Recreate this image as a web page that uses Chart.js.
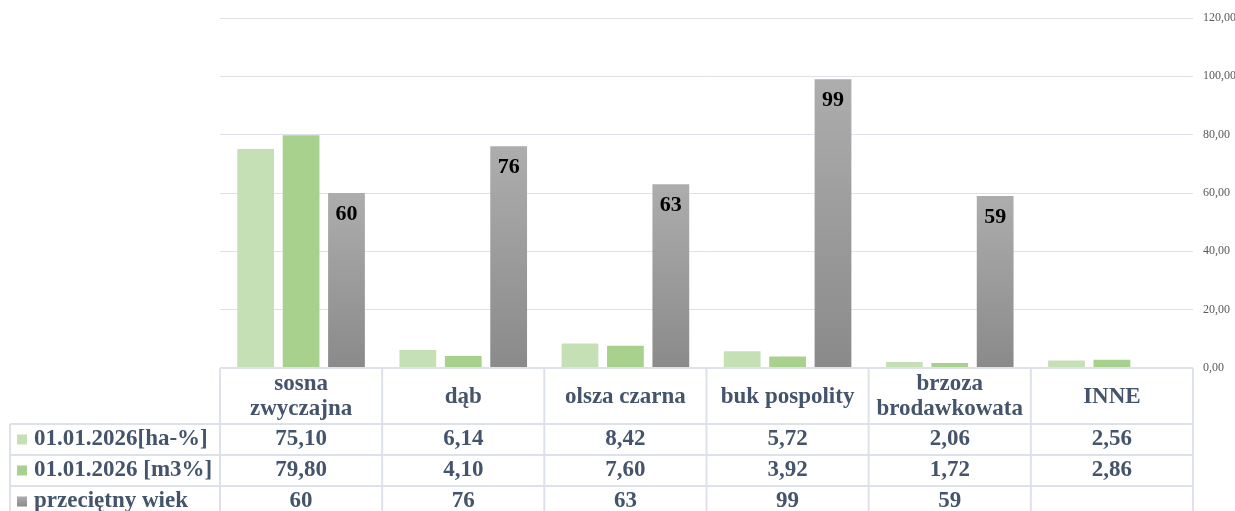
<!DOCTYPE html>
<html><head><meta charset="utf-8">
<script src="https://cdn.jsdelivr.net/npm/chart.js@4"></script>
<style>html,body{margin:0;padding:0;background:#fff}#wrap{width:1235px;height:511px}</style>
</head><body><div id="wrap"><canvas id="c" width="1235" height="511"></canvas></div>
<script>
const categories = [["sosna","zwyczajna"],["dąb"],["olsza czarna"],["buk pospolity"],["brzoza","brodawkowata"],["INNE"]];
const seriesNames = ["01.01.2026[ha-%]","01.01.2026 [m3%]","przeciętny wiek"];
const haValues = [75.10, 6.14, 8.42, 5.72, 2.06, 2.56];
const m3Values = [79.80, 4.10, 7.60, 3.92, 1.72, 2.86];
const ageValues = [60, 76, 63, 99, 59, null];
const haLabels = ["75,10","6,14","8,42","5,72","2,06","2,56"];
const m3Labels = ["79,80","4,10","7,60","3,92","1,72","2,86"];
const ageLabels = ["60","76","63","99","59",""];

const SERIF = '"Liberation Serif","Times New Roman",serif';
const TXT = '#44546a';
const LINE = '#dde2ea';

function grayGrad(ctx, top, bottom){
  const g = ctx.createLinearGradient(0, top, 0, bottom);
  g.addColorStop(0, '#adadad');
  g.addColorStop(1, '#8a8a8a');
  return g;
}

const tablePlugin = {
  id:'tablePlugin',
  afterDraw(chart){
    const ctx = chart.ctx, a = chart.chartArea, x = chart.scales.x;
    const n = categories.length;
    const cw = (a.right - a.left)/n;
    const top = a.bottom, hdrB = 424, r1 = 455, r2 = 486, bot = 520;
    ctx.save();
    ctx.strokeStyle = LINE; ctx.lineWidth = 2;
    ctx.beginPath();
    ctx.moveTo(a.left, top); ctx.lineTo(a.right, top);
    [hdrB, r1, r2].forEach(y=>{ctx.moveTo(10, y); ctx.lineTo(a.right, y);});
    for(let i=0;i<=n;i++){ const xx = a.left + i*cw; ctx.moveTo(xx, top); ctx.lineTo(xx, bot); }
    ctx.moveTo(10, hdrB); ctx.lineTo(10, bot);
    ctx.stroke();
    ctx.fillStyle = TXT; ctx.textAlign='center'; ctx.textBaseline='middle';
    ctx.font = 'bold 23px ' + SERIF;
    categories.forEach((lines,i)=>{
      const cx = x.getPixelForValue(i);
      const mid = (top+hdrB)/2 + 1;
      const lh = 25;
      lines.forEach((t,j)=>{ ctx.fillText(t, cx, mid + (j - (lines.length-1)/2)*lh); });
    });
    const rows = [haLabels, m3Labels, ageLabels];
    const rowMid = [(hdrB+r1)/2, (r1+r2)/2, (r2+517)/2];
    rows.forEach((r,ri)=>{
      r.forEach((t,i)=>{ ctx.fillText(t, x.getPixelForValue(i), rowMid[ri]); });
    });
    ctx.textAlign='left';
    const cols = ['#c5e0b4','#a9d18e', null];
    seriesNames.forEach((s,ri)=>{
      const y = rowMid[ri];
      ctx.fillStyle = cols[ri] || grayGrad(ctx, y-5, y+5);
      ctx.fillRect(17, y-5, 10, 10);
      ctx.fillStyle = TXT;
      ctx.fillText(s, 34, y);
    });
    ctx.restore();
  }
};

const labelPlugin = {
  id:'labelPlugin',
  afterDatasetsDraw(chart){
    const ctx = chart.ctx;
    const meta = chart.getDatasetMeta(2);
    ctx.save();
    ctx.fillStyle = '#000'; ctx.font = 'bold 22px ' + SERIF;
    ctx.textAlign='center'; ctx.textBaseline='middle';
    meta.data.forEach((el,i)=>{
      if(ageValues[i]==null) return;
      ctx.fillText(ageLabels[i], el.x, el.y + 21);
    });
    ctx.restore();
  }
};

new Chart(document.getElementById('c'), {
  type:'bar',
  data:{
    labels: categories.map(c=>c.join(' ')),
    datasets:[
      {label:seriesNames[0], data:haValues, backgroundColor:'#c5e0b4'},
      {label:seriesNames[1], data:m3Values, backgroundColor:'#a9d18e'},
      {label:seriesNames[2], data:ageValues, backgroundColor:(c)=>{
        const ch = c.chart; if(!ch.chartArea || !ch.scales.y) return '#9c9c9c';
        const v = c.raw; if(v==null) return '#9c9c9c';
        return grayGrad(ch.ctx, ch.scales.y.getPixelForValue(v), ch.scales.y.getPixelForValue(0));
      }}
    ]
  },
  options:{
    responsive:false, animation:false,
    layout:{padding:{left:220, right:0, top:18, bottom:143}},
    plugins:{legend:{display:false}, tooltip:{enabled:false}},
    datasets:{bar:{categoryPercentage:0.84, barPercentage:0.81}},
    scales:{
      x:{display:false},
      y:{position:'right', min:0, max:120,
        afterFit(s){ s.width = 42; },
        grid:{color:LINE, lineWidth:1, drawTicks:false},
        border:{display:false},
        ticks:{stepSize:20, padding:10, color:'#595959', font:{family:SERIF, size:12},
          callback:(v)=>v.toFixed(2).replace('.',',')}
      }
    }
  },
  plugins:[labelPlugin, tablePlugin]
});
</script></body></html>
